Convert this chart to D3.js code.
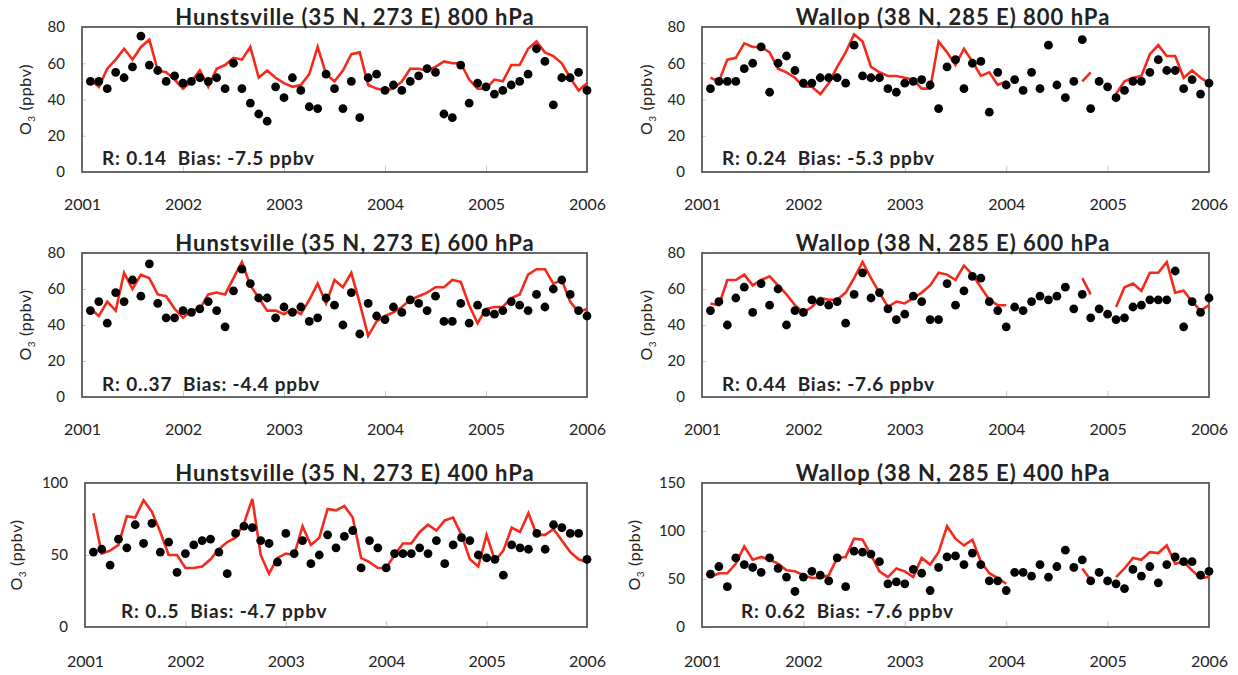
<!DOCTYPE html>
<html>
<head>
<meta charset="utf-8">
<script src="https://cdn.jsdelivr.net/npm/d3@7"></script>
<style>
  html, body { margin: 0; padding: 0; background: #fff; }
  svg text { font-family: Lato, "Open Sans", sans-serif; fill: #222; white-space: pre; }
</style>
</head>
<body>
<svg id="chart" width="1238" height="675"></svg>
<script>
// ---------- DATA (monthly, Feb 2001 .. Jan 2006; null = no model value) ----------
const yearTicks = [2001, 2002, 2003, 2004, 2005, 2006];

const titles = [
  "Hunstsville (35 N, 273 E) 800 hPa",
  "Wallop (38 N, 285 E) 800 hPa",
  "Hunstsville (35 N, 273 E) 600 hPa",
  "Wallop (38 N, 285 E) 600 hPa",
  "Hunstsville (35 N, 273 E) 400 hPa",
  "Wallop (38 N, 285 E) 400 hPa"
];
const statLabels = [
  "R: 0.14  Bias: -7.5 ppbv",
  "R: 0.24  Bias: -5.3 ppbv",
  "R: 0..37  Bias: -4.4 ppbv",
  "R: 0.44  Bias: -7.6 ppbv",
  "R: 0..5  Bias: -4.7 ppbv",
  "R: 0.62  Bias: -7.6 ppbv"
];
const yTicks800 = [0, 20, 40, 60, 80];
const yTicks600 = [0, 20, 40, 60, 80];
const yTicksHun400 = [0, 50, 100];
const yTicksWal400 = [0, 50, 100, 150];

const hun800Obs = [50,50,46,55,52,58,75,59,56,50, 53,49,50,52,50,52,46,60,46,38,
                   32,28,47,41,52,45,36,35,54,46, 35,50,30,52,54,45,48,45,50,53,
                   57,55,32,30,59,38,49,47,43,45, 48,50,54,68,61,37,52,52,55,45];
const hun800Mod = [51,47,57,62,68,62,69,73,56,55, 51,46,50,56,47,57,59,63,62,69,
                   52,56,52,49,47,48,54,69,54,50, 56,65,66,48,46,45,46,50,57,57,
                   56,58,61,60,60,51,46,46,51,50, 59,59,68,72,66,64,60,52,45,49];

const wal800Obs = [46,50,50,50,57,60,69,44,60,64, 56,49,49,52,52,52,49,70,53,52,
                   52,46,44,49,50,51,48,35,58,62, 46,60,61,33,55,48,51,45,55,46,
                   70,48,41,50,73,35,50,47,41,45, 50,50,55,62,56,56,46,51,43,49];
const wal800Mod = [52,50,62,63,71,69,69,66,57,55, 52,47,47,43,49,58,66,76,72,58,
                   55,53,53,52,51,46,46,72,66,59, 68,61,53,55,48,50,null,null,null,null,
                   null,null,null,null,50,55,null,null,43,50, 52,53,65,70,64,64,52,56,52,49];

const hun600Obs = [48,53,41,58,53,65,56,74,52,44, 44,48,47,49,53,48,39,59,71,63,
                   55,55,44,50,47,50,42,44,55,51, 40,58,35,52,45,43,50,47,54,52,
                   48,56,42,42,52,41,51,47,46,48, 53,51,48,57,50,60,65,57,48,45];
const hun600Mod = [49,45,53,48,69,60,68,66,57,56, 49,44,48,49,57,58,57,66,75,62,
                   55,48,48,46,49,46,54,63,52,65, 61,69,52,34,42,45,47,50,54,56,
                   58,61,61,65,64,51,41,49,50,50, 55,57,68,71,71,63,65,53,47,49];

const wal600Obs = [48,53,40,55,61,47,63,51,60,40, 48,47,54,53,51,53,41,57,69,55,
                   58,49,43,46,56,53,43,43,63,51, 59,67,66,53,48,39,50,48,53,56,
                   54,56,61,49,57,44,49,46,43,44, 50,51,54,54,54,70,39,53,47,55];
const wal600Mod = [52,51,65,65,68,62,65,67,62,57, 51,47,50,55,54,54,58,66,75,66,
                   58,50,53,52,55,58,62,69,68,65, 73,68,61,54,51,51,null,null,null,null,
                   null,null,null,null,66,57,null,null,50,61, 63,59,69,69,75,58,59,53,48,51];

const hun400Obs = [52,54,43,61,55,71,58,72,52,59, 38,51,57,60,61,52,37,65,70,69,
                   60,58,45,65,51,60,44,50,64,55, 63,67,41,60,55,41,51,51,51,55,
                   51,60,44,57,62,60,50,48,47,36, 57,55,54,65,54,71,69,65,65,47];
const hun400Mod = [79,51,53,57,77,76,88,80,66,50, 50,41,41,42,47,54,59,62,72,89,
                   50,37,48,51,50,70,57,62,82,81, 84,76,48,45,41,41,50,58,58,66,
                   71,67,74,76,64,47,42,64,46,53, 69,66,79,64,64,68,60,52,47,45];

const wal400Obs = [55,63,42,72,65,62,57,72,61,52, 37,52,58,54,48,72,42,79,78,76,
                   68,45,47,45,60,56,38,62,73,74, 65,77,65,48,48,38,57,57,53,65,
                   52,63,80,62,70,48,57,48,45,40, 60,53,63,46,65,73,68,68,54,58];
const wal400Mod = [52,56,56,66,84,70,73,70,66,59, 58,54,51,51,54,72,73,92,91,75,
                   58,52,61,58,52,72,65,78,105,92, 85,91,68,56,51,45,null,null,null,null,
                   null,null,null,null,61,49,null,null,52,61, 72,70,78,77,85,66,68,59,51,52];

// ---------- LAYOUT ----------
const cols = [
  { x0: 82, x1: 587, titleX: 355, yLabelX: 25, statX: 102 },
  { x0: 702, x1: 1209, titleX: 953, yLabelX: 646, statX: 722 }
];
const rows = [
  { y0: 27, y1: 172, titleY: 25, yearY: 211, statY: 165 },
  { y0: 253, y1: 397, titleY: 251, yearY: 436, statY: 391 },
  { y0: 483, y1: 627, titleY: 481, yearY: 668, statY: 618 }
];

const panels = [
  { r: 0, c: 0, obs: hun800Obs, mod: hun800Mod, ymax: 80, ticks: yTicks800 },
  { r: 0, c: 1, obs: wal800Obs, mod: wal800Mod, ymax: 80, ticks: yTicks800 },
  { r: 1, c: 0, obs: hun600Obs, mod: hun600Mod, ymax: 80, ticks: yTicks600 },
  { r: 1, c: 1, obs: wal600Obs, mod: wal600Mod, ymax: 80, ticks: yTicks600 },
  { r: 2, c: 0, obs: hun400Obs, mod: hun400Mod, ymax: 100, ticks: yTicksHun400, x0: 85, yLabelX: 16, statX: 121 },
  { r: 2, c: 1, obs: wal400Obs, mod: wal400Mod, ymax: 150, ticks: yTicksWal400, yLabelX: 634, statX: 741 }
];

const svg = d3.select("#chart");

panels.forEach((p, k) => {
  const col = cols[p.c], row = rows[p.r];
  const x0 = p.x0 != null ? p.x0 : col.x0;
  const x1 = col.x1;
  const yLabelX = p.yLabelX != null ? p.yLabelX : col.yLabelX;
  const statX = p.statX != null ? p.statX : col.statX;

  const x = d3.scaleLinear().domain([2001, 2006]).range([x0, x1]);
  const y = d3.scaleLinear().domain([0, p.ymax]).range([row.y1, row.y0]);
  const t = i => 2001 + (i + 1) / 12;

  const g = svg.append("g");

  // inner tick marks (light grey) on left and bottom
  const yAxis = d3.axisLeft(y).tickValues(p.ticks).tickSize(-4).tickPadding(17);
  const ya = g.append("g").attr("transform", `translate(${x0},0)`).call(yAxis);
  ya.select(".domain").remove();
  ya.selectAll(".tick line").attr("stroke", "#c8c8c8");
  ya.selectAll(".tick text").style("font-size", "15px").attr("fill", "#222")
    .style("font-family", "Lato, sans-serif");

  const xAxis = d3.axisBottom(x).tickValues([2002, 2003, 2004, 2005]).tickSize(-6).tickFormat("");
  const xa = g.append("g").attr("transform", `translate(0,${row.y1})`).call(xAxis);
  xa.select(".domain").remove();
  xa.selectAll(".tick line").attr("stroke", "#c8c8c8");

  // year labels
  const yrAxis = d3.axisBottom(x).tickValues(yearTicks).tickSize(0).tickPadding(0).tickFormat(d3.format("d"));
  const yra = g.append("g").attr("transform", `translate(0,${row.yearY - 12})`).call(yrAxis);
  yra.select(".domain").remove();
  yra.selectAll(".tick text").style("font-size", "16px").attr("fill", "#222")
     .style("font-family", "Lato, sans-serif");

  // frame
  g.append("rect")
    .attr("x", x0).attr("y", row.y0)
    .attr("width", x1 - x0).attr("height", row.y1 - row.y0)
    .attr("fill", "none").attr("stroke", "#595959").attr("stroke-width", 1.8);

  // model line
  const line = d3.line()
    .defined(d => d != null)
    .x((d, i) => x(t(i)))
    .y(d => y(d));
  g.append("path")
    .datum(p.mod)
    .attr("d", line)
    .attr("fill", "none")
    .attr("stroke", "#f42a1c")
    .attr("stroke-width", 2.6)
    .attr("stroke-linejoin", "miter");

  // observations
  g.selectAll("circle.obs")
    .data(p.obs)
    .join("circle")
    .attr("class", "obs")
    .attr("cx", (d, i) => x(t(i)))
    .attr("cy", d => y(d))
    .attr("r", 4.4)
    .attr("fill", "#000");

  // title
  g.append("text")
    .attr("x", col.titleX).attr("y", row.titleY)
    .attr("text-anchor", "middle")
    .style("font-size", "22px").style("font-weight", "bold")
    .style("letter-spacing", "1px")
    .text(titles[k]);

  // stats
  g.append("text")
    .attr("x", statX).attr("y", row.statY)
    .style("font-size", "19px").style("font-weight", "bold")
    .style("letter-spacing", "0.8px")
    .text(statLabels[k]);

  // y label
  const yl = g.append("text")
    .attr("transform", `translate(${yLabelX},${(row.y0 + row.y1) / 2}) rotate(-90)`)
    .attr("text-anchor", "middle")
    .attr("dy", "0.35em")
    .style("font-size", "16px")
    .style("letter-spacing", "0.6px");
  yl.append("tspan").text("O");
  yl.append("tspan").attr("dy", "4").style("font-size", "10px").text("3");
  yl.append("tspan").attr("dy", "-4").text(" (ppbv)");
});
</script>
</body>
</html>
